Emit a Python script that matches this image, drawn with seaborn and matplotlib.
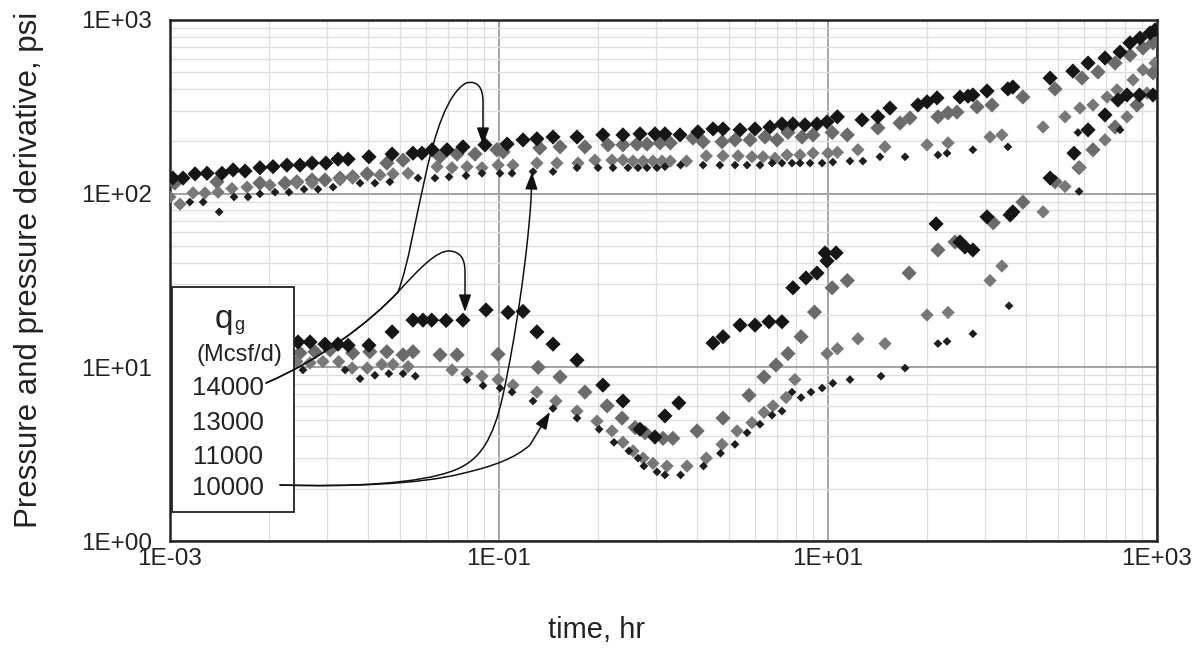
import matplotlib
matplotlib.use("Agg")
import matplotlib.pyplot as plt
import pandas as pd
import seaborn as sns
from matplotlib.path import Path
from matplotlib.patches import FancyArrowPatch, Rectangle
from matplotlib.ticker import FixedLocator, FuncFormatter, NullFormatter

sns.set_theme(style="white")
plt.rcParams["font.family"] = ["Liberation Sans", "DejaVu Sans"]

# ---- pressure change (psi) vs time (hr), per gas rate ----
p_14000 = [(0.00104, 123), (0.0012, 123), (0.00142, 130), (0.00168, 131), (0.00207, 131), (0.00242, 137),
           (0.00286, 135), (0.00352, 141), (0.00423, 143), (0.00514, 146), (0.00617, 146), (0.0073, 150),
           (0.00887, 150), (0.0105, 158), (0.0121, 158), (0.0162, 163), (0.0224, 169), (0.030, 171),
           (0.034, 171), (0.0392, 179), (0.0483, 179), (0.0604, 186), (0.0822, 191), (0.112, 193),
           (0.14, 204), (0.17, 207), (0.213, 212), (0.298, 212), (0.428, 218), (0.567, 218), (0.72, 221),
           (0.887, 221), (1.02, 221), (1.26, 218), (1.62, 227), (2.0, 236), (2.3, 236), (2.92, 233),
           (3.6, 236), (4.44, 242), (5.25, 252), (6.12, 252), (7.24, 249), (8.57, 252), (9.86, 259),
           (11.4, 277), (16.1, 266), (20.1, 277), (23.8, 311), (35.2, 324), (40, 338), (46, 356),
           (63.4, 360), (71, 364), (76, 370), (92.6, 390), (124, 401), (133, 411), (224, 463), (308, 508),
           (381, 565), (483, 604), (596, 654), (685, 738), (788, 787), (906, 841), (972, 876)]

p_13000 = [(0.00107, 115), (0.00193, 117), (0.00352, 115), (0.0050, 115), (0.0059, 117), (0.0073, 120),
           (0.00875, 120), (0.0108, 123), (0.0129, 125), (0.0158, 130), (0.0208, 150), (0.0261, 156),
           (0.0438, 163), (0.0556, 169), (0.0715, 169), (0.097, 179), (0.106, 174), (0.177, 183),
           (0.235, 186), (0.333, 186), (0.46, 191), (0.567, 191), (0.69, 193), (0.794, 193), (0.953, 196),
           (1.10, 196), (1.51, 209), (1.74, 199), (2.27, 199), (2.72, 204), (3.36, 204), (4.14, 212),
           (4.90, 204), (5.71, 225), (6.95, 212), (8.11, 218), (10.6, 225), (13.1, 218), (20.1, 239),
           (27.4, 255), (31.5, 273), (46.6, 277), (53.7, 292), (60.8, 295), (80.5, 316), (99.3, 324),
           (153, 360), (240, 401), (350, 463), (438, 502), (556, 565), (685, 628), (822, 690), (946, 738)]

p_11000 = [(0.001, 95.7), (0.00115, 87), (0.00138, 101), (0.00163, 101), (0.00196, 102), (0.00238, 107),
           (0.00294, 109), (0.00405, 112), (0.0059, 115), (0.0073, 115), (0.0108, 120), (0.0129, 123),
           (0.0189, 128), (0.0227, 130), (0.028, 131), (0.042, 143), (0.0518, 141), (0.0639, 143),
           (0.0788, 141), (0.0987, 146), (0.1216, 146), (0.170, 150), (0.225, 150), (0.302, 150),
           (0.383, 156), (0.486, 156), (0.567, 156), (0.653, 154), (0.752, 154), (0.863, 154),
           (0.980, 154), (1.10, 154), (1.38, 154), (1.82, 165), (2.3, 165), (2.84, 165), (3.45, 163),
           (4.03, 163), (4.76, 160), (5.63, 167), (6.76, 167), (8.11, 171), (10.0, 171), (11.4, 173),
           (15.2, 179), (22.2, 186), (40, 191), (53.7, 196), (96.6, 212), (114, 218), (203, 242),
           (276, 277), (340, 311), (408, 324), (497, 360), (571, 396), (715, 452), (822, 516), (973, 565)]

p_10000 = [(0.00132, 89.5), (0.00159, 89.5), (0.00199, 78.5), (0.00245, 95.7), (0.00298, 95.7),
           (0.00352, 99.7), (0.00435, 102), (0.00529, 102), (0.00653, 106), (0.00794, 106), (0.0098, 109),
           (0.0143, 115), (0.0176, 115), (0.0217, 117), (0.0322, 123), (0.0408, 123), (0.0497, 125),
           (0.063, 127), (0.0788, 131), (0.1014, 131), (0.12, 131), (0.161, 134), (0.213, 134),
           (0.298, 141), (0.40, 141), (0.493, 141), (0.608, 141), (0.70, 141), (0.794, 141), (0.913, 141),
           (1.02, 143), (1.27, 146), (1.74, 146), (2.20, 146), (2.72, 146), (3.22, 146), (3.86, 146),
           (4.57, 150), (5.25, 150), (6.04, 150), (6.76, 150), (7.78, 150), (9.21, 150), (10.7, 152),
           (13.6, 154), (16.3, 154), (20.7, 163), (29.4, 163), (46.6, 167), (52.9, 171), (76, 179),
           (124, 186), (331, 225), (596, 233)]

# ---- pressure derivative (psi) vs time (hr), per gas rate ----
d_14000 = [(0.0060, 14.0), (0.0071, 14.0), (0.00875, 13.6), (0.0105, 13.6), (0.0121, 13.4), (0.0162, 13.4),
           (0.0224, 16.0), (0.030, 18.7), (0.0345, 18.7), (0.039, 18.7), (0.0477, 18.6), (0.0604, 18.7),
           (0.0834, 21.4), (0.1135, 20.7), (0.14, 21.0), (0.17, 16.0), (0.213, 13.6), (0.298, 11.0),
           (0.428, 7.9), (0.567, 6.4), (0.72, 4.4), (0.887, 3.97), (1.02, 5.25), (1.24, 6.24), (2.0, 13.8),
           (2.3, 15.0), (2.92, 17.5), (3.6, 17.5), (4.38, 18.3), (5.25, 18.3), (6.12, 28.7), (7.35, 32.7),
           (8.57, 34.9), (9.6, 45.6), (9.86, 41.0), (11.2, 45.6), (45.4, 67), (63.4, 52.7), (68, 49.3),
           (76, 47.4), (92.6, 73.5), (128, 75.4), (133, 78.5), (224, 123), (313, 171), (381, 233),
           (483, 284), (579, 346), (657, 370), (783, 370), (946, 370)]

d_13000 = [(0.00617, 12.1), (0.0076, 12.3), (0.0094, 12.6), (0.0129, 12.1), (0.0164, 12.3), (0.0208, 12.3),
           (0.0261, 11.8), (0.0300, 12.3), (0.0438, 11.8), (0.0556, 11.8), (0.0987, 11.9), (0.173, 10.0),
           (0.235, 8.8), (0.333, 7.2), (0.454, 6.0), (0.56, 5.1), (0.672, 4.5), (0.773, 4.2), (0.993, 3.9),
           (1.14, 3.9), (1.60, 4.3), (2.3, 5.1), (3.31, 6.9), (4.08, 8.8), (4.83, 10.3), (5.71, 12.0),
           (6.86, 15.0), (8.28, 20.8), (10.6, 28.7), (13.1, 31.6), (31.1, 34.9), (46.6, 47.4), (59.2, 52.7),
           (101, 68), (153, 89.4), (240, 117), (336, 141), (408, 179), (556, 242), (755, 324), (946, 496)]

d_11000 = [(0.0059, 10.8), (0.0071, 10.6), (0.0085, 10.8), (0.0106, 10.8), (0.0128, 9.9), (0.0158, 9.9),
           (0.0194, 10.4), (0.0227, 10.4), (0.028, 10.1), (0.0518, 9.66), (0.0639, 9.2), (0.0788, 8.9),
           (0.0987, 8.5), (0.1216, 7.9), (0.17, 7.2), (0.222, 6.4), (0.298, 5.6), (0.394, 4.9),
           (0.486, 4.3), (0.567, 3.7), (0.653, 3.3), (0.752, 3.0), (0.863, 2.8), (1.05, 2.7), (1.39, 2.7),
           (1.82, 3.0), (2.27, 3.6), (2.80, 4.3), (3.45, 4.8), (4.08, 5.5), (4.63, 6.0), (5.56, 6.7),
           (6.29, 8.5), (9.86, 12.0), (11.4, 12.8), (15.2, 14.6), (22.2, 13.7), (40, 20.0), (53.7, 20.7),
           (96.6, 31.6), (114, 38.3), (203, 78.5), (276, 110), (340, 142), (483, 204), (657, 277),
           (869, 380)]

d_10000 = [(0.00643, 9.66), (0.0116, 9.66), (0.0143, 8.6), (0.0176, 9.0), (0.0214, 9.2), (0.0261, 9.2),
           (0.031, 8.9), (0.0639, 8.5), (0.080, 7.85), (0.1014, 7.6), (0.12, 7.2), (0.161, 6.4),
           (0.213, 5.8), (0.298, 5.1), (0.406, 4.4), (0.50, 3.7), (0.616, 3.3), (0.70, 3.0), (0.76, 2.7),
           (0.913, 2.5), (1.02, 2.4), (1.27, 2.4), (1.75, 2.7), (2.22, 3.2), (2.72, 3.6), (3.22, 4.2),
           (3.86, 4.7), (4.57, 5.3), (5.25, 5.6), (6.04, 7.2), (6.86, 6.7), (7.88, 7.2), (9.21, 7.6),
           (10.7, 8.1), (13.6, 8.5), (21.0, 8.9), (29.4, 9.9), (46.6, 13.7), (52.9, 14.1), (76, 15.6),
           (126, 22.6), (336, 103)]

rates = ["14000", "13000", "11000", "10000"]
pressure = {"14000": p_14000, "13000": p_13000, "11000": p_11000, "10000": p_10000}
derivative = {"14000": d_14000, "13000": d_13000, "11000": d_11000, "10000": d_10000}

frames = []
for rate in rates:
    for kind, table in (("pressure", pressure), ("derivative", derivative)):
        t, v = zip(*table[rate])
        frames.append(pd.DataFrame({"time": t, "value": v, "rate": rate, "kind": kind}))
df = pd.concat(frames, ignore_index=True)

# marker look per rate: (colour, marker area)
look = {"14000": ("#161616", 60), "13000": ("#6b6b6b", 60),
        "11000": ("#787878", 46), "10000": ("#1e1e1e", 20)}
draw_order = ["13000", "11000", "14000", "10000"]

fig = plt.figure(figsize=(11.93, 6.5), dpi=100)
fig.patch.set_facecolor("white")
ax = fig.add_axes([170 / 1193, 109 / 650, 987 / 1193, 521 / 650])
ax.set_xscale("log")
ax.set_yscale("log")
ax.set_xlim(1e-3, 1e3)
ax.set_ylim(1, 1000)

for z, rate in enumerate(draw_order):
    colour, area = look[rate]
    sns.scatterplot(data=df[df["rate"] == rate], x="time", y="value", marker="D", s=area,
                    color=colour, edgecolor="none", linewidth=0, legend=False, ax=ax, zorder=3 + z * 0.1)

# axes: base-100 style time axis, decade pressure axis
ax.xaxis.set_major_locator(FixedLocator([1e-3, 1e-1, 1e1, 1e3]))
ax.xaxis.set_minor_locator(FixedLocator([b * k * k for b in (1e-3, 1e-1, 1e1) for k in range(2, 10)]))
ax.yaxis.set_major_locator(FixedLocator([1, 10, 100, 1000]))
ax.yaxis.set_minor_locator(FixedLocator([k * 10 ** e for e in range(0, 3) for k in range(2, 10)]))
sci = FuncFormatter(lambda v, pos: f"{v:.0E}")
ax.xaxis.set_major_formatter(sci)
ax.yaxis.set_major_formatter(sci)
ax.xaxis.set_minor_formatter(NullFormatter())
ax.yaxis.set_minor_formatter(NullFormatter())

ax.set_axisbelow(True)
ax.grid(True, which="major", color="#a3a3a3", linewidth=1.4)
ax.grid(True, which="minor", color="#dddddd", linewidth=0.9)
ax.tick_params(axis="both", which="major", labelsize=17.5, labelcolor="#222222", color="#777777",
               length=5, width=1)
ax.tick_params(axis="x", which="major", length=0, pad=5)
ax.tick_params(axis="y", which="major", pad=8)
ax.tick_params(which="minor", length=0)
for side in ("left", "right", "top", "bottom"):
    ax.spines[side].set_visible(True)
    ax.spines[side].set_color("#222222")
    ax.spines[side].set_linewidth(1.8)

ax.set_xlabel("time, hr", fontsize=21, color="#222222", va="center")
ax.xaxis.set_label_coords((597 - 170) / 987, (541 - 630) / 521)
ax.set_ylabel("Pressure and pressure derivative, psi", fontsize=22.5, color="#222222", va="center")
ax.yaxis.set_label_coords((29 - 170) / 987, (541 - 270) / 521)


def at(px, py):
    """Axes-fraction position from a pixel position on the 1193x650 canvas."""
    return ((px - 170) / 987, (541 - py) / 521)


# rate key box
ax.add_patch(Rectangle(at(172, 512), 122 / 987, 225 / 521, transform=ax.transAxes,
                       facecolor="white", edgecolor="#222222", linewidth=1.3, zorder=6, clip_on=False))
ax.text(*at(224, 328), "q", transform=ax.transAxes, ha="center", va="baseline",
        fontsize=24, color="#222222", zorder=7)
ax.text(*at(234, 330), "g", transform=ax.transAxes, ha="left", va="baseline",
        fontsize=13, color="#222222", zorder=7)
ax.text(*at(239, 355), "(Mcsf/d)", transform=ax.transAxes, ha="center", va="center",
        fontsize=17, color="#222222", zorder=7)
for label, py in zip(rates, (388, 423, 457, 488)):
    ax.text(*at(228, py), label, transform=ax.transAxes, ha="center", va="center",
            fontsize=18.5, color="#222222", zorder=7)

# curved leader arrows from the key to the curves
M, C, L = Path.MOVETO, Path.CURVE4, Path.LINETO
leaders = [
    [((266, 383), M), ((320, 360), C), ((370, 322), C), ((398, 292), C),
     ((418, 240), C), ((428, 105), C), ((466, 83), C),
     ((478, 80), C), ((483, 88), C), ((483, 102), C), ((483, 145), L)],
    [((266, 383), M), ((320, 360), C), ((370, 322), C), ((398, 292), C),
     ((420, 268), C), ((437, 250), C), ((450, 251), C),
     ((460, 252), C), ((465, 258), C), ((465, 272), C), ((465, 312), L)],
    [((280, 485), M), ((350, 487), C), ((420, 484), C), ((455, 470), C),
     ((480, 460), C), ((493, 440), C), ((503, 395), C),
     ((515, 340), C), ((527, 260), C), ((531, 200), C), ((532, 172), L)],
    [((280, 485), M), ((350, 487), C), ((420, 484), C), ((460, 474), C),
     ((495, 466), C), ((515, 458), C), ((530, 445), C), ((550, 412), L)],
]
for leader in leaders:
    verts = [at(*p) for p, _ in leader]
    codes = [c for _, c in leader]
    arrow = FancyArrowPatch(path=Path(verts, codes), transform=ax.transAxes,
                            arrowstyle="-|>,head_length=0.7,head_width=0.25", mutation_scale=15,
                            color="#111111", linewidth=1.1, zorder=8, clip_on=False)
    ax.add_patch(arrow)

fig.savefig("out.png", dpi=100, facecolor="white")
